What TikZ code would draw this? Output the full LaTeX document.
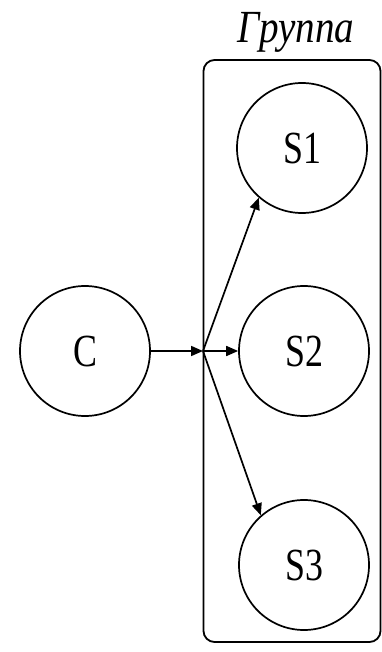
\documentclass[tikz,border=0pt]{standalone}
\usepackage{fontspec}
\setmainfont{Liberation Serif}
\usetikzlibrary{arrows.meta}
\newcommand\narrowtxt[2][0.78]{\scalebox{#1}[1]{#2}}
\begin{document}
\begin{tikzpicture}[x=1pt,y=-1pt,
  proc/.style={draw, circle, line width=1.7pt, minimum size=130pt, inner sep=0pt,
    font=\fontsize{46}{46}\selectfont},
  arr/.style={line width=1.7pt, -{Triangle[length=12pt,width=10pt]}},
  groupbox/.style={draw, line width=1.8pt, rounded corners=11pt, inner sep=0pt}]
\useasboundingbox (0,0) rectangle (382,652);
\node[proc] (C)  at (85,351)  {\narrowtxt{C}};
\node[proc] (S1) at (302,148) {\narrowtxt{S1}};
\node[proc] (S2) at (304,351) {\narrowtxt{S2}};
\node[proc] (S3) at (304,565) {\narrowtxt{S3}};
\node[groupbox, minimum width=177pt, minimum height=582pt] (grp) at (292,351) {};
\node[font=\fontsize{46}{46}\selectfont\itshape, anchor=base] (lbl) at (296,43) {\narrowtxt[0.85]{Группа}};
\coordinate (J) at (203,351);
\draw[arr] (C) -- (J);
\draw[arr] (J) -- (S2);
\draw[arr] (J) -- (S1.229);
\draw[arr] (J) -- (S3.131);
\end{tikzpicture}
\end{document}
